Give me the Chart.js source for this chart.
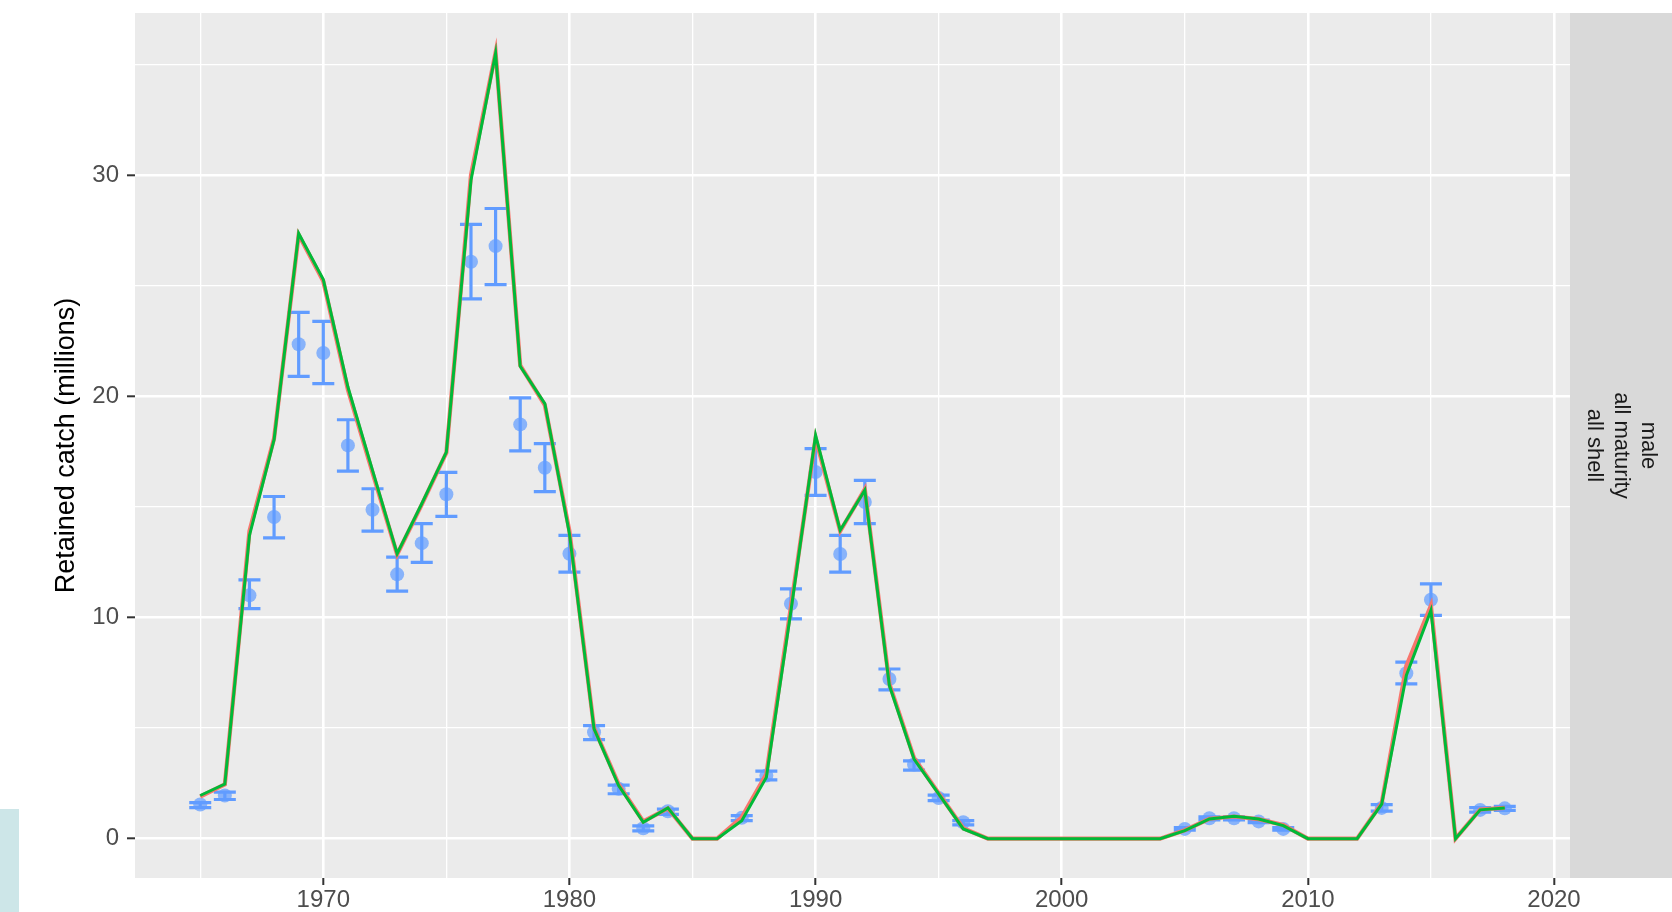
<!DOCTYPE html>
<html>
<head>
<meta charset="utf-8">
<title>Retained catch</title>
<script src="https://cdn.jsdelivr.net/npm/chart.js@4/dist/chart.umd.min.js"></script>
<style>
  html, body { margin: 0; padding: 0; background: #fff; }
  #wrap { position: relative; width: 1672px; height: 912px; }
  canvas { display: block; }
  .corner { position: absolute; left: 0; top: 809px; width: 19px; height: 103px; background: #cde6e8; }
</style>
</head>
<body>
<div id="wrap">
  <canvas id="catchChart" width="1672" height="912"></canvas>
  <div class="corner"></div>
</div>
<script>
// Data (millions)
const years = [1965, 1966, 1967, 1968, 1969, 1970, 1971, 1972, 1973, 1974,
  1975, 1976, 1977, 1978, 1979, 1980, 1981, 1982, 1983, 1984,
  1985, 1986, 1987, 1988, 1989, 1990, 1991, 1992, 1993, 1994,
  1995, 1996, 1997, 1998, 1999, 2000, 2001, 2002, 2003, 2004,
  2005, 2006, 2007, 2008, 2009, 2010, 2011, 2012, 2013, 2014,
  2015, 2016, 2017, 2018];

// model fit, red run (drawn underneath)
const modelA = [1.90, 2.45, 13.90, 18.10, 27.30, 25.20, 20.30, 16.55, 12.85, 15.10,
  17.45, 30.00, 35.55, 21.40, 19.60, 13.90, 5.00, 2.45, 0.78, 1.37,
  0, 0, 0.96, 2.92, 10.50, 18.10, 13.90, 15.80, 7.00, 3.65,
  2.05, 0.47, 0, 0, 0, 0, 0, 0, 0, 0,
  0.38, 0.90, 1.00, 0.88, 0.62, 0, 0, 0, 1.60, 7.80,
  10.54, 0, 1.32, 1.39];

// model fit, green run (drawn on top)
const modelB = [1.95, 2.47, 13.71, 18.04, 27.36, 25.28, 20.42, 16.65, 12.88, 15.14,
  17.48, 29.77, 35.50, 21.36, 19.67, 13.79, 4.96, 2.40, 0.74, 1.39,
  0, 0, 0.81, 2.77, 10.30, 18.24, 13.94, 15.75, 6.92, 3.60,
  2.02, 0.44, 0, 0, 0, 0, 0, 0, 0, 0,
  0.36, 0.89, 1.01, 0.89, 0.59, 0, 0, 0, 1.56, 7.38,
  10.32, 0, 1.30, 1.39];

// observed retained catch with error bar limits
const observed = [1.54, 1.95, 11.00, 14.54, 22.35, 21.96, 17.78, 14.87, 11.95, 13.36,
  15.57, 26.08, 26.79, 18.73, 16.77, 12.88, 4.81, 2.25, 0.47, 1.24,
  null, null, 0.94, 2.85, 10.62, 16.58, 12.87, 15.22, 7.22, 3.35,
  1.84, 0.74, null, null, null, null, null, null, null, null,
  0.44, 0.92, 0.92, 0.78, 0.44, null, null, null, 1.39, 7.48,
  10.80, null, 1.30, 1.37];
const obsLower = [1.40, 1.77, 10.40, 13.60, 20.90, 20.57, 16.62, 13.90, 11.19, 12.49,
  14.57, 24.40, 25.05, 17.53, 15.69, 12.05, 4.48, 2.03, 0.35, 1.10,
  null, null, 0.81, 2.66, 9.94, 15.52, 12.05, 14.24, 6.73, 3.10,
  1.72, 0.62, null, null, null, null, null, null, null, null,
  0.38, 0.85, 0.85, 0.72, 0.38, null, null, null, 1.24, 7.00,
  10.09, null, 1.20, 1.28];
const obsUpper = [1.63, 2.10, 11.70, 15.47, 23.79, 23.39, 18.94, 15.82, 12.73, 14.24,
  16.56, 27.77, 28.49, 19.93, 17.86, 13.71, 5.11, 2.42, 0.58, 1.33,
  null, null, 1.04, 3.05, 11.29, 17.63, 13.71, 16.20, 7.67, 3.52,
  1.97, 0.81, null, null, null, null, null, null, null, null,
  0.50, 0.99, 0.99, 0.84, 0.50, null, null, null, 1.54, 7.98,
  11.52, null, 1.40, 1.46];

const xTicks = [1965, 1970, 1975, 1980, 1985, 1990, 1995, 2000, 2005, 2010, 2015, 2020];
const yTicks = [0, 5, 10, 15, 20, 25, 30, 35];
const stripLines = ['male', 'all maturity', 'all shell'];

const RED = '#F8766D';
const GREEN = '#00BA38';
const BLUE = '#619CFF';
const FONT = '"Liberation Sans", Arial, Helvetica, sans-serif';

Chart.defaults.font.family = FONT;

function toPoints(values) {
  return years.map((yr, i) => ({ x: yr, y: values[i] }));
}

// Panel background, facet strip, error bars
const panelPlugin = {
  id: 'panel',
  beforeDraw(chart) {
    const { ctx, chartArea: a } = chart;
    ctx.save();
    ctx.fillStyle = '#EBEBEB';
    ctx.fillRect(a.left, a.top, a.right - a.left, a.bottom - a.top);
    // strip on the right
    ctx.fillStyle = '#D9D9D9';
    ctx.fillRect(a.right, a.top, chart.width - a.right, a.bottom - a.top);
    ctx.restore();
  },
  beforeDatasetsDraw(chart) {
    const { ctx } = chart;
    const xs = chart.scales.x;
    const ys = chart.scales.y;
    ctx.save();
    ctx.strokeStyle = BLUE;
    ctx.lineWidth = 3.2;
    years.forEach((yr, i) => {
      if (obsLower[i] == null) return;
      const px = xs.getPixelForValue(yr);
      const lo = ys.getPixelForValue(obsLower[i]);
      const hi = ys.getPixelForValue(obsUpper[i]);
      ctx.beginPath();
      ctx.moveTo(px, lo); ctx.lineTo(px, hi);
      ctx.moveTo(px - 11, lo); ctx.lineTo(px + 11, lo);
      ctx.moveTo(px - 11, hi); ctx.lineTo(px + 11, hi);
      ctx.stroke();
    });
    ctx.restore();
  },
  afterDraw(chart) {
    const { ctx, chartArea: a } = chart;
    const cx = (a.right + chart.width) / 2;
    const cy = (a.top + a.bottom) / 2;
    ctx.save();
    ctx.translate(cx, cy);
    ctx.rotate(Math.PI / 2);
    ctx.fillStyle = '#1A1A1A';
    ctx.font = '22px ' + FONT;
    ctx.textAlign = 'center';
    ctx.textBaseline = 'middle';
    stripLines.forEach((t, i) => {
      ctx.fillText(t, 0, (i - 1) * 27);
    });
    ctx.restore();
  }
};

const isMajor = (v, step) => Math.round(v) % step === 0;

new Chart(document.getElementById('catchChart'), {
  type: 'line',
  data: {
    datasets: [
      {
        label: 'observed',
        type: 'scatter',
        data: toPoints(observed),
        backgroundColor: 'rgba(97, 156, 255, 0.72)',
        borderWidth: 0,
        pointRadius: 7,
        order: 3
      },
      {
        label: 'model A',
        data: toPoints(modelA),
        borderColor: RED,
        borderWidth: 4.2,
        pointRadius: 0,
        tension: 0,
        fill: false,
        order: 2
      },
      {
        label: 'model B',
        data: toPoints(modelB),
        borderColor: GREEN,
        borderWidth: 3,
        pointRadius: 0,
        tension: 0,
        fill: false,
        order: 1
      }
    ]
  },
  options: {
    responsive: false,
    animation: false,
    devicePixelRatio: 1,
    layout: { padding: { top: 13, right: 102, left: 0, bottom: 0 } },
    plugins: {
      legend: { display: false },
      tooltip: { enabled: false }
    },
    scales: {
      x: {
        type: 'linear',
        position: 'bottom',
        min: 1962.35,
        max: 2020.65,
        afterBuildTicks: (s) => { s.ticks = xTicks.map(v => ({ value: v })); },
        afterFit: (s) => { s.height = 34; },
        border: { display: false },
        grid: {
          color: '#FFFFFF',
          lineWidth: (c) => (c.tick && isMajor(c.tick.value, 10) ? 2.6 : 1.3),
          drawTicks: true,
          tickLength: 7,
          tickWidth: 2,
          tickColor: (c) => (c.tick && isMajor(c.tick.value, 10) ? '#333333' : 'rgba(0,0,0,0)')
        },
        ticks: {
          autoSkip: false,
          maxRotation: 0,
          padding: 1,
          color: '#4D4D4D',
          font: { size: 24 },
          callback: (v) => (isMajor(v, 10) ? String(v) : '')
        }
      },
      y: {
        type: 'linear',
        min: -1.78,
        max: 37.33,
        afterBuildTicks: (s) => { s.ticks = yTicks.map(v => ({ value: v })); },
        afterFit: (s) => { s.width = 135; s.paddingTop = 0; s.paddingBottom = 0; },
        border: { display: false },
        grid: {
          color: '#FFFFFF',
          lineWidth: (c) => (c.tick && isMajor(c.tick.value, 10) ? 2.6 : 1.3),
          drawTicks: true,
          tickLength: 8,
          tickWidth: 2,
          tickColor: (c) => (c.tick && isMajor(c.tick.value, 10) ? '#333333' : 'rgba(0,0,0,0)')
        },
        ticks: {
          padding: 8,
          color: '#4D4D4D',
          font: { size: 24 },
          callback: (v) => (isMajor(v, 10) ? String(v) : '')
        },
        title: {
          display: true,
          text: 'Retained catch (millions)',
          color: '#000000',
          font: { size: 27 },
          padding: { top: 50, bottom: 0 }
        }
      }
    }
  },
  plugins: [panelPlugin]
});
</script>
</body>
</html>
